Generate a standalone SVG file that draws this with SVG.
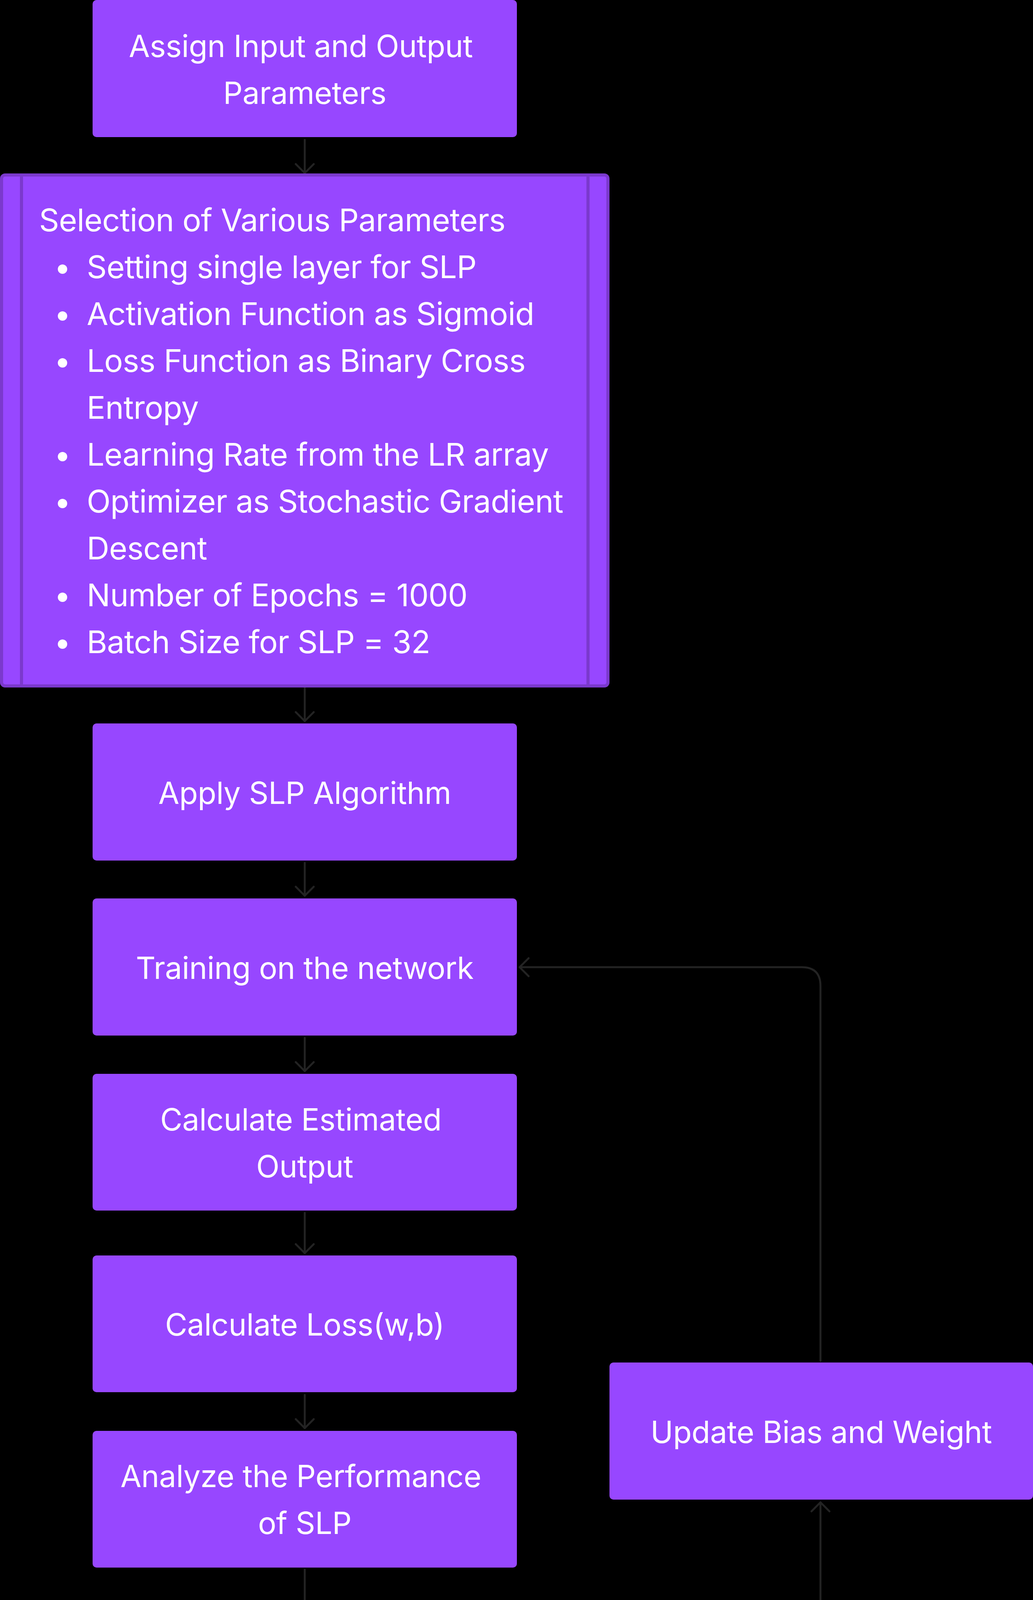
<svg xmlns="http://www.w3.org/2000/svg" width="2644" height="5824" viewBox="0 0 2644 5824">
<style>
.node{fill:#9747FF;}
.lbl{font-family:Inter,"Noto Sans","Liberation Sans",sans-serif;font-size:78px;letter-spacing:-0.4px;fill:#FFFFFF;}
.lst{font-family:Inter,"Noto Sans","Liberation Sans",sans-serif;font-size:80px;letter-spacing:-0.6px;fill:#FFFFFF;}
.c{text-anchor:middle;}
.edge{fill:none;stroke:#232323;stroke-width:5;stroke-linecap:round;stroke-linejoin:round;}
.frame{fill:#9747FF;stroke:#7B39CD;stroke-width:8;}
.bar{stroke:#7B39CD;stroke-width:8;}
</style>
<rect x="0" y="0" width="2644" height="5824" fill="#000000"/>
<g id="connectors">
<path class="edge" d="M780,358 V443 M757,420 L780,443 L803,420"/>
<path class="edge" d="M780,1761 V1846 M757,1823 L780,1846 L803,1823"/>
<path class="edge" d="M780,2209 V2293 M757,2270 L780,2293 L803,2270"/>
<path class="edge" d="M780,2657 V2742 M757,2719 L780,2742 L803,2719"/>
<path class="edge" d="M780,3105 V3208 M757,3185 L780,3208 L803,3185"/>
<path class="edge" d="M780,3571 V3656 M757,3633 L780,3656 L803,3633"/>
<path class="edge" d="M780,4018 V4122 M757,4099 L780,4122 L803,4099"/>
<path class="edge" d="M780,5401 V5466 M757,5443 L780,5466 L803,5443"/>
<path class="edge" d="M2100,3484 V2524 Q2100,2476 2052,2476 H1330 M1353,2453 L1330,2476 L1353,2499"/>
<path class="edge" d="M1436,4688 H1447"/>
<path class="edge" d="M1643,4688 H2052 Q2100,4688 2100,4640 V3846 M2077,3869 L2100,3846 L2123,3869"/>
</g>
<g id="n1">
<rect class="node" x="237" y="0" width="1086" height="351" rx="10"/>
<text class="lbl c" x="770" y="146">Assign Input and Output</text>
<text class="lbl c" x="780" y="266">Parameters</text>
</g>
<g id="n2">
<rect class="frame" x="4" y="448" width="1552" height="1308" rx="9"/>
<line class="bar" x1="55" y1="448" x2="55" y2="1756"/>
<line class="bar" x1="1505" y1="448" x2="1505" y2="1756"/>
<text class="lst" x="100" y="592">Selection of Various Parameters</text>
<g fill="#FFFFFF">
<circle cx="160" cy="689" r="12"/>
<circle cx="160" cy="809" r="12"/>
<circle cx="160" cy="929" r="12"/>
<circle cx="160" cy="1169" r="12"/>
<circle cx="160" cy="1289" r="12"/>
<circle cx="160" cy="1529" r="12"/>
<circle cx="160" cy="1649" r="12"/>
</g>
<text class="lst" x="222" y="712">Setting single layer for SLP</text>
<text class="lst" x="222" y="832">Activation Function as Sigmoid</text>
<text class="lst" x="222" y="952">Loss Function as Binary Cross</text>
<text class="lst" x="222" y="1072">Entropy</text>
<text class="lst" x="222" y="1192">Learning Rate from the LR array</text>
<text class="lst" x="222" y="1312">Optimizer as Stochastic Gradient</text>
<text class="lst" x="222" y="1432">Descent</text>
<text class="lst" x="222" y="1552">Number of Epochs = 1000</text>
<text class="lst" x="222" y="1672">Batch Size for SLP = 32</text>
</g>
<g id="n3">
<rect class="node" x="237" y="1852" width="1086" height="351" rx="10"/>
<text class="lbl c" x="780" y="2058">Apply SLP Algorithm</text>
</g>
<g id="n4">
<rect class="node" x="237" y="2300" width="1086" height="351" rx="10"/>
<text class="lbl c" x="780" y="2506">Training on the network</text>
</g>
<g id="n5">
<rect class="node" x="237" y="2749" width="1086" height="350" rx="10"/>
<text class="lbl c" x="770" y="2894">Calculate Estimated</text>
<text class="lbl c" x="780" y="3014">Output</text>
</g>
<g id="n6">
<rect class="node" x="237" y="3214" width="1086" height="350" rx="10"/>
<text class="lbl c" x="780" y="3419">Calculate Loss(w,b)</text>
</g>
<g id="n7">
<rect class="node" x="237" y="3663" width="1086" height="350" rx="10"/>
<text class="lbl c" x="770" y="3807">Analyze the Performance</text>
<text class="lbl c" x="780" y="3927">of SLP</text>
</g>
<g id="n8">
<polygon class="node" points="780,4133 1423,4688 780,5243 137,4688" stroke="#9747FF" stroke-width="10" stroke-linejoin="round"/>
<text class="lbl c" x="770" y="4537">Validation Loss</text>
<text class="lbl c" x="770" y="4657">same for 5</text>
<text class="lbl c" x="770" y="4777">consecutive</text>
<text class="lbl c" x="780" y="4897">epochs</text>
</g>
<g id="n9">
<rect class="node" x="1560" y="3488" width="1084" height="351" rx="10"/>
<text class="lbl c" x="2102" y="3694">Update Bias and Weight</text>
</g>
<g id="n10">
<rect class="node" x="237" y="5473" width="1086" height="361" rx="10"/>
<text class="lbl c" x="770" y="5617">Optimized Network with</text>
<text class="lbl c" x="780" y="5737">Output Response</text>
</g>
</svg>
